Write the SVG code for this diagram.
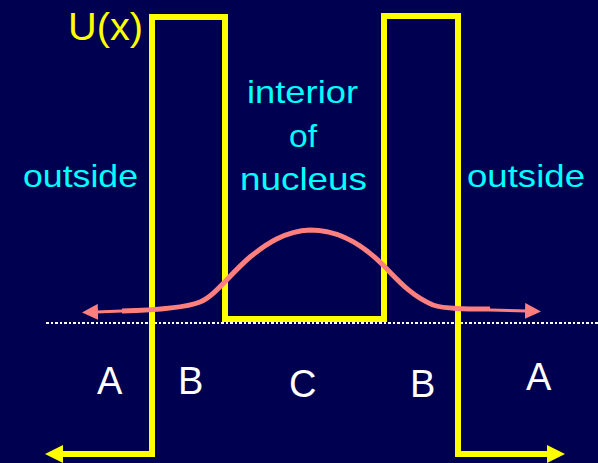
<svg xmlns="http://www.w3.org/2000/svg" width="598" height="463" viewBox="0 0 598 463">
  <style>
    .lbl { font-family: "Liberation Sans", Arial, sans-serif; }
    .cyan { fill: #00ffff; font-size: 32px; }
    .white { fill: #ffffff; font-size: 38px; }
  </style>
  <defs>
    <marker id="ya" viewBox="0 0 18 18" refX="2" refY="9" markerWidth="18" markerHeight="18" markerUnits="userSpaceOnUse" orient="auto-start-reverse">
      <path d="M0 0 L18 9 L0 18 Z" fill="#ffff00"/>
    </marker>
    <marker id="pa" viewBox="0 0 16 16" refX="2" refY="8" markerWidth="16" markerHeight="16" markerUnits="userSpaceOnUse" orient="auto-start-reverse">
      <path d="M0 0 L16 8 L0 16 Z" fill="#ff7f7f"/>
    </marker>
  </defs>
  <rect width="598" height="463" fill="#000050"/>
  <g id="axis">
    <line x1="46" y1="323" x2="598" y2="323" stroke="#ffffff" stroke-width="2.4" stroke-dasharray="2.5 2" shape-rendering="crispEdges"/>
  </g>
  <g id="potential">
    <path d="M 61 454 L 152 454 L 152 17 L 225 17 L 225 319 L 384 319 L 384 16 L 458 16 L 458 454 L 549 454" fill="none" stroke="#ffff00" stroke-width="6" marker-start="url(#ya)" marker-end="url(#ya)"/>
  </g>
  <g id="wavefunction" fill="none" stroke="#ff7f7f" stroke-linecap="butt">
    <path d="M 96 312 L 122 311" stroke-width="3" marker-start="url(#pa)"/>
    <path d="M 122 311 C 160 310 185 308 200 302 C 215 296 228 276 250 257 C 266 244 285 231 310 230 C 335 230 358 240 383 265 C 398 280 410 295 433 305 C 445 309 465 309 490 309" stroke-width="5"/>
    <path d="M 490 310 L 527 311" stroke-width="3" marker-end="url(#pa)"/>
  </g>
  <g id="labels" class="lbl">
    <text x="68" y="40" fill="#ffff00" font-size="39" textLength="75" lengthAdjust="spacingAndGlyphs">U(x)</text>
    <text class="cyan" x="23" y="187" textLength="115" lengthAdjust="spacingAndGlyphs">outside</text>
    <text class="cyan" x="467" y="187" textLength="118" lengthAdjust="spacingAndGlyphs">outside</text>
    <text class="cyan" x="247" y="103" textLength="111" lengthAdjust="spacingAndGlyphs">interior</text>
    <text class="cyan" x="289" y="147" textLength="28" lengthAdjust="spacingAndGlyphs">of</text>
    <text class="cyan" x="240" y="190" textLength="127" lengthAdjust="spacingAndGlyphs">nucleus</text>
    <text class="white" x="97" y="394">A</text>
    <text class="white" x="178" y="394">B</text>
    <text class="white" x="289" y="397">C</text>
    <text class="white" x="410" y="397">B</text>
    <text class="white" x="526" y="390">A</text>
  </g>
</svg>
